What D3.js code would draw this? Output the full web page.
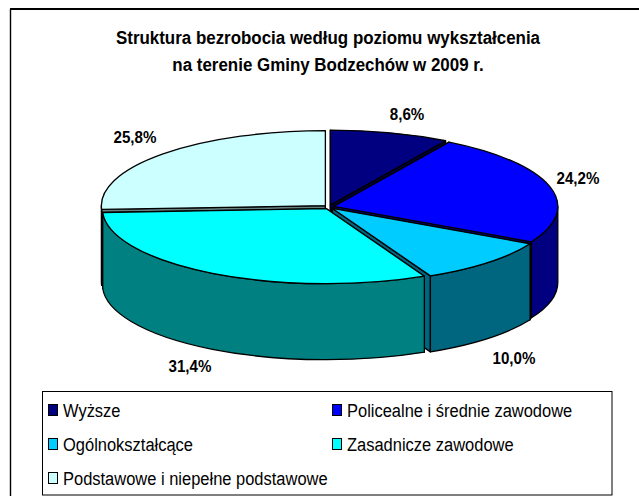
<!DOCTYPE html>
<html><head><meta charset="utf-8">
<script src="https://cdnjs.cloudflare.com/ajax/libs/d3/7.8.5/d3.min.js"></script>
<style>html,body{margin:0;padding:0;background:#fff}svg{display:block}text{font-family:"Liberation Sans",Arial,sans-serif;fill:#000}</style>
</head><body><svg id="c" width="639" height="496"></svg>
<script>
const titleLines = ["Struktura bezrobocia według poziomu wykształcenia","na terenie Gminy Bodzechów w 2009 r."];
const categories = ["Wyższe","Policealne i średnie zawodowe","Ogólnokształcące","Zasadnicze zawodowe","Podstawowe i niepełne podstawowe"];
const values = [8.6,24.2,10.0,31.4,25.8];
const valueLabels = ["8,6%","24,2%","10,0%","31,4%","25,8%"];
const topColors = ["#000080","#0000ff","#00ccff","#00ffff","#ccffff"];
const sideColors = ["#000040","#000080","#006680","#008080","#668080"];
const labelPos = [[407,120],[578,184],[514,364],[190,372],[135,143]];
const legendPos = [[48,410],[332,410],[48,444],[332,444],[48,478]];
const drawOrder = [0,4,1,2,3];

const svg = d3.select("#c");
const cx=329, cy=207, rx=224, ry=75, depth=76, explX=5, explY=2;
const pie = d3.pie().sort(null).value(d=>d);
const arcs = pie(values);
function narrow(sel,factor){
  sel.each(function(){
    const w=this.getComputedTextLength();
    d3.select(this).attr("textLength",w*factor).attr("lengthAdjust","spacingAndGlyphs");
  });
  return sel;
}

svg.append("line").attr("x1",10).attr("x2",639).attr("y1",9).attr("y2",9).attr("stroke","#000").attr("stroke-width",2);
svg.append("line").attr("x1",10.5).attr("x2",10.5).attr("y1",9).attr("y2",496).attr("stroke","#000").attr("stroke-width",1.4);

const title = svg.append("g").attr("text-anchor","middle").attr("font-weight","bold").attr("font-size",18);
titleLines.forEach((t,i)=>narrow(title.append("text").attr("x",328).attr("y",44+i*27).text(t),0.94));

const pie3d = svg.append("g").attr("stroke","#000").attr("stroke-width",1.3).attr("stroke-linejoin","round");
function slicePts(d){
  const m=(d.startAngle+d.endAngle)/2;
  const ox=cx+explX*Math.sin(m), oy=cy-explY*Math.cos(m);
  const p=(a,dy=0)=>[ox+rx*Math.sin(a), oy-ry*Math.cos(a)+dy];
  return {ox,oy,p};
}
function arcCmd(to,sweep,large){return `A${rx},${ry} 0 ${large} ${sweep} ${to[0]},${to[1]}`;}
drawOrder.forEach(i=>{
  const d=arcs[i], {ox,oy,p}=slicePts(d), a0=d.startAngle, a1=d.endAngle, side=sideColors[i];
  const face=a=>{const q=p(a),r=p(a,depth);
    return `M${ox},${oy}L${q}L${r}L${ox},${oy+depth}Z`;};
  pie3d.append("path").attr("d",face(a0)).attr("fill",side);
  pie3d.append("path").attr("d",face(a1)).attr("fill",side);
  const w0=Math.max(a0,Math.PI/2), w1=Math.min(a1,Math.PI*1.5);
  if(w1>w0){
    const l=(w1-w0)>Math.PI?1:0;
    pie3d.append("path").attr("fill",side).attr("d",
      `M${p(w0)}${arcCmd(p(w1),1,l)}L${p(w1,depth)}${arcCmd(p(w0,depth),0,l)}Z`);
  }
  const l=(a1-a0)>Math.PI?1:0;
  pie3d.append("path").attr("fill",topColors[i]).attr("d",`M${ox},${oy}L${p(a0)}${arcCmd(p(a1),1,l)}Z`);
});

const vl=svg.append("g").attr("text-anchor","middle").attr("font-weight","bold").attr("font-size",16);
valueLabels.forEach((t,i)=>narrow(vl.append("text").attr("x",labelPos[i][0]).attr("y",labelPos[i][1]).text(t),0.945));

svg.append("rect").attr("x",42.5).attr("y",391.5).attr("width",569.5).attr("height",103.5).attr("fill","#fff").attr("stroke","#000").attr("stroke-width",1);
categories.forEach((c,i)=>{
  const [x,y]=legendPos[i];
  svg.append("rect").attr("x",x+.5).attr("y",y-5.5).attr("width",9).attr("height",11).attr("fill",topColors[i]).attr("stroke","#000");
  narrow(svg.append("text").attr("x",x+15).attr("y",y+6.5).attr("font-size",18).text(c),0.915);
});
</script></body></html>
